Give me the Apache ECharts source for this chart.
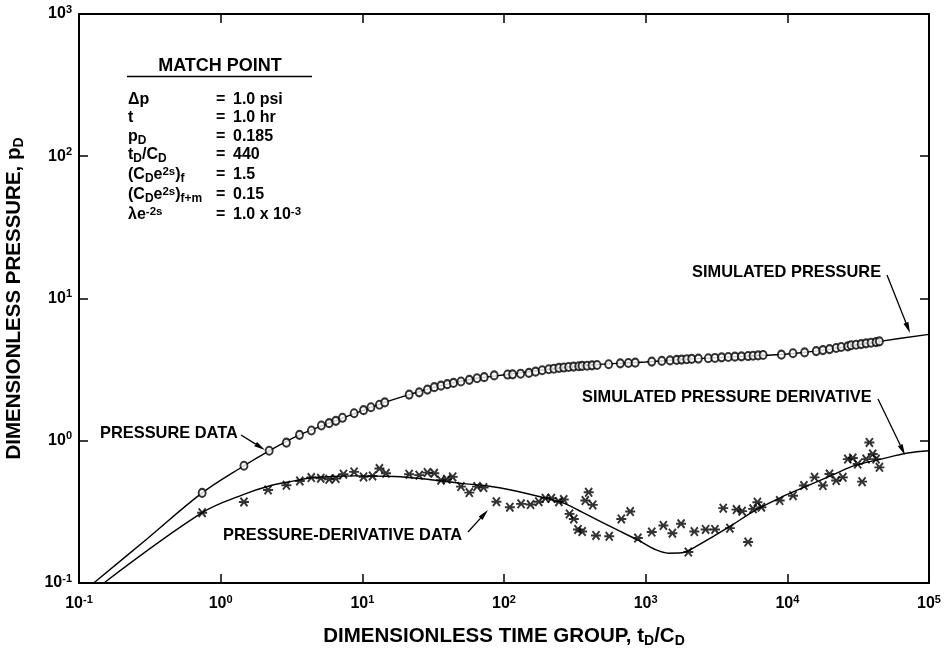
<!DOCTYPE html>
<html>
<head>
<meta charset="utf-8">
<script src="https://cdn.jsdelivr.net/npm/echarts@6/dist/echarts.min.js"></script>
<style>html,body{margin:0;padding:0;background:#fff;}#chart{width:952px;height:654px;}</style>
</head>
<body>
<div id="chart"></div>
<script>
// ---- Data ----
const xTickExponents = [-1, 0, 1, 2, 3, 4, 5];
const yTickExponents = [-1, 0, 1, 2, 3];

const pressureDataX = [0.74, 1.46, 2.2, 2.91, 3.6, 4.37, 5.14, 5.83, 6.5, 7.24, 8.75, 10.2, 11.5, 13.2, 14.4,
  21.4, 25.2, 28.8, 32.2, 35.9, 39.8, 44, 49.7, 56.9, 64.5, 72.5, 85.3, 106,
  115, 131, 150, 167, 186, 207, 225, 244, 264, 286, 310, 337, 356, 386, 418, 454,
  548, 662, 755, 844, 1104, 1300, 1486, 1656, 1795, 1950, 2113, 2355, 2767, 3083, 3436, 3828, 4266, 4742, 5284, 5728, 6223, 6745,
  9080, 10960, 13240, 15990, 17820, 19860, 22130, 23990, 26700, 28180, 30550, 33190, 35970, 38990, 42270, 44670];
const pressureDataY = [0.43, 0.667, 0.85, 0.97, 1.10, 1.18, 1.28, 1.33, 1.38, 1.45, 1.56, 1.64, 1.72, 1.79, 1.86,
  2.11, 2.19, 2.29, 2.38, 2.44, 2.5, 2.55, 2.61, 2.68, 2.75, 2.8, 2.88, 2.92,
  2.93, 2.96, 3.0, 3.06, 3.13, 3.18, 3.21, 3.25, 3.27, 3.30, 3.32, 3.34, 3.36, 3.37, 3.39, 3.41,
  3.45, 3.50, 3.52, 3.54, 3.60, 3.64, 3.67, 3.70, 3.72, 3.74, 3.76, 3.78, 3.80, 3.82, 3.86, 3.88, 3.90, 3.92, 3.94, 3.96, 3.98, 4.01,
  4.03, 4.12, 4.18, 4.27, 4.34, 4.41, 4.49, 4.56, 4.61, 4.69, 4.73, 4.78, 4.84, 4.89, 4.94, 5.0];

const derivDataX = [0.74, 1.46, 2.16, 2.91, 3.62, 4.36, 5.09, 5.83, 6.5, 7.36, 8.75, 10.2, 11.8, 13.2, 14.7,
  21.4, 25.2, 28.8, 32.2, 35.9, 39.5, 43.4, 49.7, 56.9, 64.5, 71.8, 88.4,
  110, 132, 154, 176, 196, 216, 244, 264, 290, 311, 333, 356, 375, 396, 423, 446, 553, 673, 778, 881,
  1104, 1334, 1544, 1778, 2000, 2206, 2650, 3084, 3527, 3930, 4375, 4797, 5285, 5730, 6150, 6560,
  8830, 10970, 13090, 15560, 17820, 19850, 22130, 24660, 26720, 28970, 31400, 33700, 35970, 37960, 40080, 42300, 44670];
const derivDataY = [0.312, 0.371, 0.451, 0.486, 0.522, 0.551, 0.545, 0.536, 0.542, 0.582, 0.604, 0.557, 0.566, 0.638, 0.591,
  0.582, 0.573, 0.597, 0.591, 0.528, 0.536, 0.557, 0.476, 0.432, 0.476, 0.469, 0.373,
  0.341, 0.36, 0.356, 0.373, 0.394, 0.394, 0.373, 0.386, 0.306, 0.282, 0.238, 0.23, 0.38, 0.434, 0.354, 0.216, 0.213, 0.282, 0.318, 0.207,
  0.228, 0.254, 0.224, 0.261, 0.165, 0.23, 0.238, 0.238, 0.336, 0.243, 0.328, 0.32, 0.194, 0.332, 0.37, 0.341,
  0.38, 0.411, 0.484, 0.553, 0.484, 0.584, 0.525, 0.553, 0.743, 0.756, 0.686, 0.516, 0.743, 0.973, 0.807, 0.743, 0.65];

const simPressureX = [0.127, 0.3, 0.74, 1.46, 2.2, 3.6, 5.83, 10.2, 14.4, 21.4, 35.9, 64.5, 106, 200, 400, 1000, 2000, 5000, 10000, 20000, 45000, 100000];
const simPressureY = [0.1, 0.203, 0.43, 0.667, 0.85, 1.1, 1.33, 1.64, 1.86, 2.11, 2.44, 2.75, 2.92, 3.17, 3.41, 3.58, 3.75, 3.93, 4.07, 4.41, 5.0, 5.59];

const simDerivX = [0.15, 0.74, 1.46, 2.2, 3.3, 4.57, 8.75, 16.8, 28.8, 49.7, 76.7, 112, 207, 272, 356, 610, 891, 1167, 1449, 1795, 2228, 3083, 4036, 5888, 9078, 13970, 20400, 29800, 45800, 70600, 100000];
const simDerivY = [0.1, 0.312, 0.42, 0.481, 0.522, 0.551, 0.566, 0.56, 0.536, 0.502, 0.481, 0.451, 0.39, 0.36, 0.315, 0.24, 0.199, 0.172, 0.162, 0.163, 0.179, 0.216, 0.254, 0.323, 0.401, 0.484, 0.569, 0.668, 0.743, 0.82, 0.851];

const matchLabels = ['{b|\u0394p}', '{b|t}', '{b|p}{sub|D}', '{b|t}{sub|D}{b|/C}{sub|D}',
  '{b|(C}{sub|D}{b|e}{sup|2s}{b|)}{sub|f}', '{b|(C}{sub|D}{b|e}{sup|2s}{b|)}{sub|f+m}', '{b|\u03bbe}{sup|-2s}'];
const matchValues = ['{b|1.0 psi}', '{b|1.0 hr}', '{b|0.185}', '{b|440}', '{b|1.5}', '{b|0.15}', '{b|1.0 x 10}{sup|-3}'];

// ---- Chart ----
const FONT = '"Liberation Sans", Arial, Helvetica, sans-serif';
const chart = echarts.init(document.getElementById('chart'), null, {renderer: 'canvas'});

function zip(xs, ys) { return xs.map((x, i) => [x, ys[i]]); }

const tickRich = {
  b: {fontFamily: FONT, fontWeight: 'bold', fontSize: 16, lineHeight: 20, color: '#000'},
  sup: {fontFamily: FONT, fontWeight: 'bold', fontSize: 11, lineHeight: 12, verticalAlign: 'top', color: '#000'}
};
function expLabel(v) {
  const e = Math.round(Math.log10(v));
  return '{b|10}{sup|' + e + '}';
}
const titleRich = {
  b: {fontFamily: FONT, fontWeight: 'bold', fontSize: 20.5, lineHeight: 24, color: '#000'},
  sub: {fontFamily: FONT, fontWeight: 'bold', fontSize: 14, lineHeight: 12, verticalAlign: 'bottom', color: '#000'}
};
const tableRich = {
  b: {fontFamily: FONT, fontWeight: 'bold', fontSize: 16, lineHeight: 19, color: '#000'},
  sub: {fontFamily: FONT, fontWeight: 'bold', fontSize: 12, lineHeight: 10, verticalAlign: 'bottom', color: '#000'},
  sup: {fontFamily: FONT, fontWeight: 'bold', fontSize: 11.5, lineHeight: 11, verticalAlign: 'top', color: '#000'}
};

const STAR = 'path://M0,4.1L10,4.1L10,5.9L0,5.9Z M2.2,0.35L9.2,8.35L7.8,9.65L0.8,1.65Z M9.2,1.65L2.2,9.65L0.8,8.35L7.8,0.35Z';

function baseAxis(extra) {
  return Object.assign({
    type: 'log', logBase: 10,
    axisLine: {show: true, onZero: false, lineStyle: {color: '#000', width: 2}},
    axisTick: {show: true, inside: true, length: 9, lineStyle: {color: '#000', width: 1.5}},
    minorTick: {show: false},
    splitLine: {show: false},
    axisLabel: {show: false}
  }, extra);
}

const option = {
  backgroundColor: '#fff',
  animation: false,
  grid: {left: 79, right: 23, top: 14, bottom: 71, containLabel: false, outerBoundsMode: 'none'},
  xAxis: [
    baseAxis({position: 'bottom', min: 0.1, max: 100000, splitNumber: 6,
      axisLabel: {show: true, margin: 11, formatter: expLabel, rich: tickRich, showMinLabel: true, showMaxLabel: true},
      name: '{b|DIMENSIONLESS TIME GROUP, t}{sub|D}{b|/C}{sub|D}',
      nameLocation: 'middle', nameGap: 41, nameTextStyle: {rich: titleRich}}),
    baseAxis({position: 'top', min: 0.1, max: 100000, splitNumber: 6})
  ],
  yAxis: [
    baseAxis({position: 'left', min: 0.1, max: 1000, splitNumber: 4,
      axisLabel: {show: true, margin: 7, formatter: expLabel, rich: tickRich, showMinLabel: true, showMaxLabel: true},
      name: '{b|DIMENSIONLESS PRESSURE, p}{sub|D}',
      nameLocation: 'middle', nameGap: 53, nameTextStyle: {rich: titleRich}}),
    baseAxis({position: 'right', min: 0.1, max: 1000, splitNumber: 4})
  ],
  series: [
    {type: 'line', name: 'Simulated pressure', data: zip(simPressureX, simPressureY), showSymbol: false, symbol: 'none',
      smooth: 0.35, lineStyle: {color: '#000', width: 1.4}, z: 2},
    {type: 'line', name: 'Simulated derivative', data: zip(simDerivX, simDerivY), showSymbol: false, symbol: 'none',
      smooth: 0.35, lineStyle: {color: '#000', width: 1.4}, z: 2},
    {type: 'scatter', name: 'Pressure data', data: zip(pressureDataX, pressureDataY), symbol: 'emptyCircle', symbolSize: [7, 8],
      itemStyle: {color: '#000', borderColor: '#000', borderWidth: 1.3}, z: 3},
    {type: 'scatter', name: 'Derivative data', data: zip(derivDataX, derivDataY), symbol: STAR, symbolSize: 10,
      itemStyle: {color: '#000'}, z: 3}
  ]
};
chart.setOption(option);

// ---- Annotations ----
function arrow(x1, y1, x2, y2) {
  const dx = x2 - x1, dy = y2 - y1, len = Math.sqrt(dx * dx + dy * dy);
  const ux = dx / len, uy = dy / len, hl = 11, hw = 2.6;
  const bx = x2 - ux * hl, by = y2 - uy * hl;
  return [
    {type: 'line', silent: true, shape: {x1: x1, y1: y1, x2: bx, y2: by}, style: {stroke: '#000', lineWidth: 1.3}, z: 10},
    {type: 'polygon', silent: true, shape: {points: [[x2, y2], [bx - uy * hw, by + ux * hw], [bx + uy * hw, by - ux * hw]]},
      style: {fill: '#000'}, z: 10}
  ];
}
function label(text, x, y, size) {
  return {type: 'text', silent: true, x: x, y: y, z: 10,
    style: {text: text, fill: '#000', font: 'bold ' + (size || 16.4) + 'px ' + FONT, textAlign: 'left', textVerticalAlign: 'middle'}};
}

const g = [];
g.push(label('PRESSURE DATA', 100, 433));
g.push(...arrow(241, 435, 265, 450));
g.push(label('PRESSURE-DERIVATIVE DATA', 223, 535));
g.push(...arrow(468, 532, 488, 510));
g.push(label('SIMULATED PRESSURE', 692, 272));
g.push(...arrow(887, 275, 910, 333));
g.push(label('SIMULATED PRESSURE DERIVATIVE', 582, 397));
g.push(...arrow(878, 399, 905, 455));

// match point table
g.push({type: 'text', silent: true, x: 220, y: 66, z: 10,
  style: {text: 'MATCH POINT', fill: '#000', font: 'bold 18px ' + FONT, textAlign: 'center', textVerticalAlign: 'middle'}});
g.push({type: 'line', silent: true, shape: {x1: 127, y1: 76.5, x2: 312, y2: 76.5}, style: {stroke: '#000', lineWidth: 1.6}, z: 10});
const rowY = [100, 118, 137, 155, 175, 195, 215];
matchLabels.forEach((t, i) => {
  g.push({type: 'text', silent: true, x: 128, y: rowY[i], z: 10,
    style: {text: t, rich: tableRich, textAlign: 'left', textVerticalAlign: 'middle'}});
  g.push({type: 'text', silent: true, x: 216, y: rowY[i], z: 10,
    style: {text: '{b|=}', rich: tableRich, textAlign: 'left', textVerticalAlign: 'middle'}});
  g.push({type: 'text', silent: true, x: 233, y: rowY[i], z: 10,
    style: {text: matchValues[i], rich: tableRich, textAlign: 'left', textVerticalAlign: 'middle'}});
});
chart.setOption({graphic: {elements: g}});
</script>
</body>
</html>
